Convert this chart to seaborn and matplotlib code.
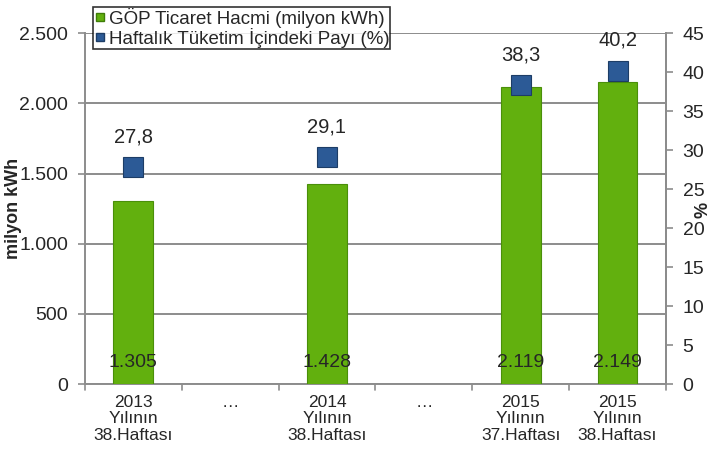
import numpy as np
import pandas as pd
import matplotlib
matplotlib.use("Agg")
import matplotlib.pyplot as plt
from matplotlib.lines import Line2D
from matplotlib.ticker import FuncFormatter
import seaborn as sns

keys = ["w2013", "gap1", "w2014", "gap2", "w2015a", "w2015b"]
tick_labels = ["2013\nYılının\n38.Haftası", "…", "2014\nYılının\n38.Haftası", "…",
               "2015\nYılının\n37.Haftası", "2015\nYılının\n38.Haftası"]
volume = [1305, np.nan, 1428, np.nan, 2119, 2149]
share = [27.8, np.nan, 29.1, np.nan, 38.3, 40.2]

df = pd.DataFrame({"key": keys, "volume": volume, "share": share})

sns.set_style("white")
plt.rcParams["font.family"] = ["Liberation Sans", "DejaVu Sans"]

fig = plt.figure(figsize=(7.13, 4.59), dpi=100)
ax = fig.add_axes([0.119, 0.163, 0.815, 0.765])

sns.barplot(data=df, x="key", y="volume", order=keys, color="#62b00e",
            width=0.41, saturation=1, edgecolor="#4a8f0a", linewidth=0.8,
            ax=ax, zorder=3)
ax.set_ylim(0, 2500)
ax.set_yticks(range(0, 2501, 500))
ax.yaxis.set_major_formatter(FuncFormatter(lambda v, p: f"{v:,.0f}".replace(",", ".")))
ax.yaxis.grid(True, color="#8c8c8c", linewidth=1.4, zorder=0)
ax.set_axisbelow(True)
ax.set_xlim(-0.5, 5.5)
ax.set_xticks(range(len(keys)))
ax.set_xticklabels(tick_labels, fontsize=12.5, linespacing=1.1)
ax.tick_params(axis="y", labelsize=14, length=5, width=1.2, color="#8c8c8c",
               direction="out", left=True, pad=7)
ax.tick_params(axis="x", length=0, pad=8)
for b in np.arange(-0.5, 5.6, 1):
    ax.plot([b, b], [0, -40], color="#8c8c8c", lw=1.2, clip_on=False, zorder=5)
ax.set_xlabel("")
ax.set_ylabel("milyon kWh", fontsize=13, fontweight="bold")
ax.yaxis.set_label_coords(-0.108, 0.5)
ax.spines["top"].set_visible(False)
for s in ["left", "bottom", "right"]:
    ax.spines[s].set_color("#8c8c8c")
    ax.spines[s].set_linewidth(1.4)

for i, v in enumerate(volume):
    if not np.isnan(v):
        ax.text(i, 155, f"{v:,.0f}".replace(",", "."), ha="center", va="center",
                fontsize=14, zorder=6)

ax2 = ax.twinx()
sns.pointplot(data=df, x="key", y="share", order=keys, linestyle="none",
              markers="s", color="#2c5a96", markersize=14.5,
              markeredgecolor="#1d3d66", markeredgewidth=0.8, ax=ax2)
ax2.set_ylim(0, 45)
ax2.set_yticks(range(0, 46, 5))
ax2.set_xlim(-0.5, 5.5)
ax2.tick_params(axis="y", labelsize=14, length=5, width=1.2, color="#8c8c8c",
                right=True, pad=7)
ax2.set_ylabel("%", fontsize=13, fontweight="bold")
ax2.yaxis.set_label_coords(1.05, 0.495)
ax2.set_xlabel("")
for s in ["top", "left", "bottom"]:
    ax2.spines[s].set_visible(False)
ax2.spines["right"].set_color("#8c8c8c")
ax2.spines["right"].set_linewidth(1.4)

for i, v in enumerate(share):
    if not np.isnan(v):
        ax2.text(i, v + 3.9, f"{v:.1f}".replace(".", ","), ha="center",
                 va="center", fontsize=14.5)

handles = [
    Line2D([], [], marker="s", linestyle="none", color="#62b00e",
           markeredgecolor="#3f7d08", markersize=6),
    Line2D([], [], marker="s", linestyle="none", color="#2c5a96",
           markeredgecolor="#1d3d66", markersize=6),
]
leg = fig.legend(handles, ["GÖP Ticaret Hacmi (milyon kWh)", "Haftalık Tüketim İçindeki Payı (%)"],
                 loc="upper left", bbox_to_anchor=(0.130, 0.985), fontsize=13.5,
                 frameon=True, fancybox=False, handletextpad=0.1, handlelength=0.7,
                 borderpad=0.05, labelspacing=0.0, borderaxespad=0)
leg.get_frame().set_edgecolor("black")
leg.get_frame().set_linewidth(1.2)
leg.set_zorder(10)

fig.savefig("out.png", dpi=100)
